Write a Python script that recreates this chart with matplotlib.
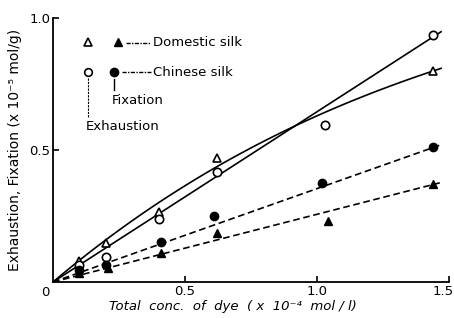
import numpy as np
import matplotlib
matplotlib.use("Agg")
import matplotlib.pyplot as plt
import matplotlib.transforms as mtransforms

# ---- data ----
dom_exh_x = [0.10, 0.20, 0.40, 0.62, 1.44]
dom_exh_y = [0.08, 0.148, 0.265, 0.47, 0.80]
chi_exh_x = [0.10, 0.20, 0.40, 0.62, 1.03, 1.44]
chi_exh_y = [0.064, 0.095, 0.24, 0.417, 0.595, 0.935]
chi_fix_x = [0.10, 0.20, 0.41, 0.61, 1.02, 1.44]
chi_fix_y = [0.045, 0.064, 0.152, 0.25, 0.375, 0.51]
dom_fix_x = [0.10, 0.21, 0.41, 0.62, 1.04, 1.44]
dom_fix_y = [0.035, 0.053, 0.11, 0.186, 0.23, 0.37]

# fitted curves (anchor points)
dom_curve_x = [0.0, 0.2, 0.4, 0.62, 0.95, 1.2, 1.47]
dom_curve_y = [0.0, 0.16, 0.30, 0.435, 0.61, 0.71, 0.81]
chi_curve_x = [0.0, 1.47]
chi_curve_y = [0.0, 0.948]
chi_fix_line_x = [0.0, 1.47]
chi_fix_line_y = [0.0, 0.52]
dom_fix_line_x = [0.0, 1.47]
dom_fix_line_y = [0.0, 0.377]

x_ticks = [0.5, 1.0, 1.5]
x_ticklabels = ["0.5", "1.0", "1.5"]
y_ticks = [0.5, 1.0]
y_ticklabels = ["0.5", "1.0"]

fig = plt.figure(figsize=(4.54, 3.18), dpi=100)
ax = fig.add_axes([53/454, 36/318, 396/454, 264/318])
ax.set_xlim(0, 1.5)
ax.set_ylim(0, 1.0)
for s in ["top", "right"]:
    ax.spines[s].set_visible(False)
for s in ["left", "bottom"]:
    ax.spines[s].set_linewidth(1.3)

lw = 1.2
p = np.polyfit(dom_curve_x, dom_curve_y, 3)
xs = np.linspace(0, 1.47, 100)
ax.plot(xs, np.polyval(p, xs), color="black", lw=lw)
ax.plot(chi_curve_x, chi_curve_y, color="black", lw=lw)
ax.plot(chi_fix_line_x, chi_fix_line_y, color="black", lw=lw, ls=(0, (4, 2.2)))
ax.plot(dom_fix_line_x, dom_fix_line_y, color="black", lw=lw, ls=(0, (4, 2.2)))

ms = 6
ax.plot(dom_exh_x, dom_exh_y, ls="none", marker="^", ms=ms, mfc="white", mec="black", mew=1.2)
ax.plot(chi_exh_x, chi_exh_y, ls="none", marker="o", ms=ms, mfc="white", mec="black", mew=1.2)
ax.plot(chi_fix_x, chi_fix_y, ls="none", marker="o", ms=ms, mfc="black", mec="black")
ax.plot(dom_fix_x, dom_fix_y, ls="none", marker="^", ms=ms, mfc="black", mec="black")

# ticks
ax.set_xticks(x_ticks)
ax.set_xticklabels(x_ticklabels)
ax.set_yticks(y_ticks)
ax.set_yticklabels(y_ticklabels)
ax.tick_params(direction="in", length=4, width=1.2, labelsize=9.5, pad=2)
last = ax.get_xticklabels()[-1]
last.set_ha("right")
last.set_transform(last.get_transform() + mtransforms.ScaledTranslation(5/100, 0, fig.dpi_scale_trans))
ax.text(-0.012, -0.015, "0", transform=ax.transData, ha="right", va="top", fontsize=9.5)

ax.set_xlabel("Total  conc.  of  dye  ( x  10⁻⁴  mol / l)", fontsize=9.5,
              fontstyle="italic", va="center")
ax.xaxis.set_label_coords(0.455, -0.093)
ax.set_ylabel("Exhaustion, Fixation (x 10⁻⁵ mol/g)", fontsize=10)
ax.yaxis.set_label_coords(-0.078, 0.5)

# in-plot legend
def fx(px):
    return (px - 53) / 396
def fy(py):
    return (282 - py) / 264

T = ax.transAxes
ax.plot([fx(88)], [fy(42)], marker="^", ms=6, mfc="white", mec="black", mew=1.2, transform=T)
ax.plot([fx(118)], [fy(42)], marker="^", ms=6, mfc="black", mec="black", transform=T)
ax.plot([fx(126), fx(151)], [fy(43), fy(43)], color="black", lw=1, ls=(0, (3, 1, 1, 1)), transform=T)
ax.text(fx(153), fy(42), "Domestic silk", transform=T, fontsize=9.5, va="center", ha="left")
ax.plot([fx(88)], [fy(72)], marker="o", ms=5.5, mfc="white", mec="black", mew=1.2, transform=T)
ax.plot([fx(114)], [fy(72)], marker="o", ms=6, mfc="black", mec="black", transform=T)
ax.plot([fx(122), fx(151)], [fy(72), fy(72)], color="black", lw=1, ls=(0, (3, 1, 1, 1)), transform=T)
ax.text(fx(153), fy(72), "Chinese silk", transform=T, fontsize=9.5, va="center", ha="left")
ax.plot([fx(114), fx(114)], [fy(79), fy(90)], color="black", lw=1, transform=T)
ax.text(fx(112), fy(101), "Fixation", transform=T, fontsize=9.5, va="center", ha="left")
ax.plot([fx(88), fx(88)], [fy(78), fy(117)], color="black", lw=0.8, ls=(0, (2, 1)), transform=T)
ax.text(fx(86), fy(127), "Exhaustion", transform=T, fontsize=9.5, va="center", ha="left")

fig.savefig("out.png", dpi=100)
